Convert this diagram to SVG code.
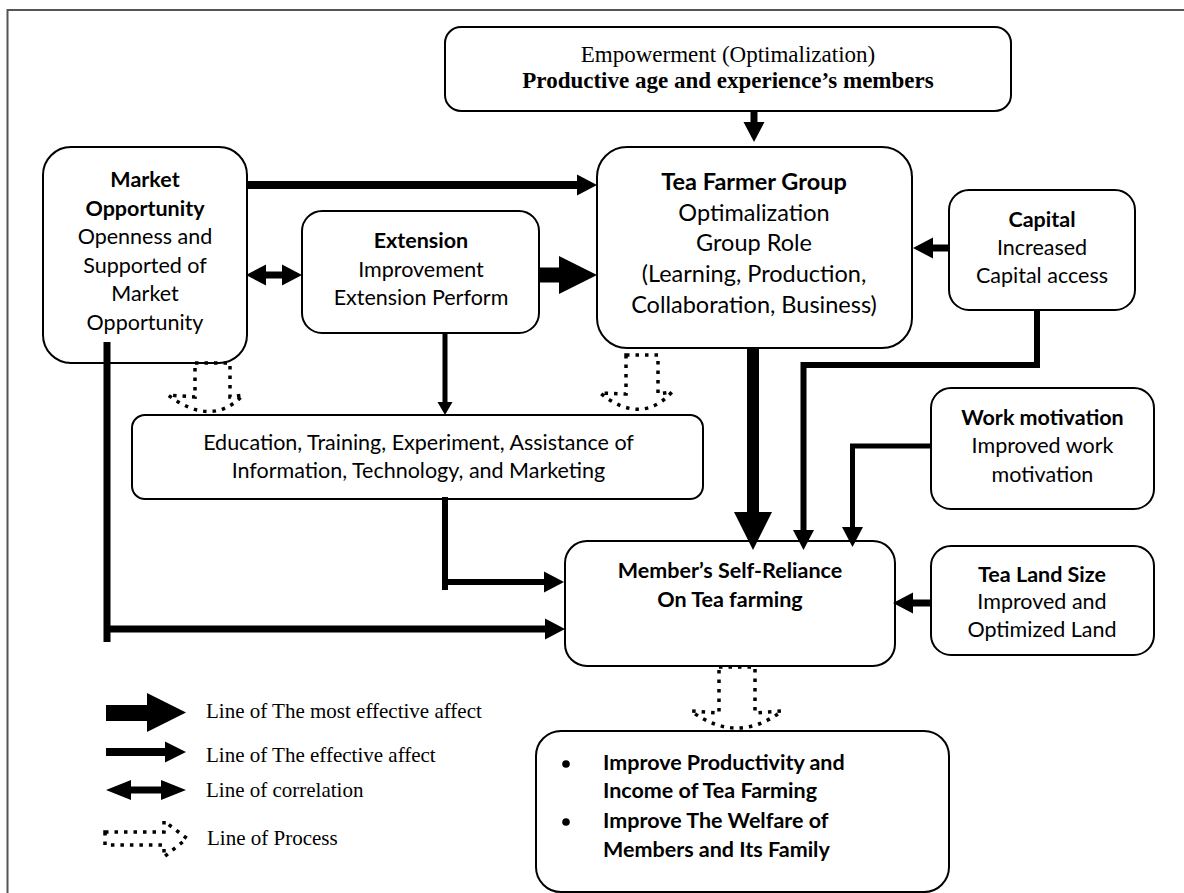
<svg xmlns="http://www.w3.org/2000/svg" width="1184" height="893" viewBox="0 0 1184 893">
<style>
.box{fill:#fff;stroke:#000;stroke-width:2}
.c{font-family:Lato,"Liberation Sans",sans-serif;font-size:21.5px;text-anchor:middle;fill:#000}
.l{font-family:Lato,"Liberation Sans",sans-serif;font-size:21.5px;font-weight:bold;fill:#000}
.big{font-size:23.5px}
.b{font-weight:bold}
.t{font-family:"Liberation Serif","Times New Roman",serif;font-size:23px;text-anchor:middle;fill:#000}
.lg{font-family:"Liberation Serif","Times New Roman",serif;font-size:21px;fill:#000}
.ln{fill:none;stroke:#000;stroke-linejoin:miter}
.proc{fill:none;stroke:#000;stroke-width:3.5;stroke-dasharray:3.5 6}
.frame{fill:none;stroke:#555;stroke-width:2}
</style>
<defs>
<marker id="h" markerUnits="userSpaceOnUse" viewBox="0 0 20 22" markerWidth="20" markerHeight="22" refX="0" refY="11" orient="auto-start-reverse"><path d="M0,0.5 L20,11 L0,21.5 Z"/></marker>
<marker id="hs" markerUnits="userSpaceOnUse" viewBox="0 0 13 16" markerWidth="13" markerHeight="16" refX="0" refY="8" orient="auto"><path d="M0,0.5 L13,8 L0,15.5 Z"/></marker>
<marker id="hb" markerUnits="userSpaceOnUse" viewBox="0 0 38 40" markerWidth="38" markerHeight="40" refX="0" refY="20" orient="auto"><path d="M0,1 L38,20 L0,39 Z"/></marker>
</defs>
<path class="frame" d="M1184,10 H7.5 V893"/>

<g id="empowerment">
<rect class="box" x="445" y="27" width="566" height="84" rx="16"/>
<text class="t" x="728" y="62">Empowerment (Optimalization)</text>
<text class="t b" x="728" y="88">Productive age and experience’s members</text>
</g>
<g id="market">
<rect class="box" x="43" y="147" width="204" height="216" rx="28"/>
<text class="c b" x="145" y="187">Market</text>
<text class="c b" x="145" y="215.5">Opportunity</text>
<text class="c" x="145" y="244">Openness and</text>
<text class="c" x="145" y="272.5">Supported of</text>
<text class="c" x="145" y="301">Market</text>
<text class="c" x="145" y="329.5">Opportunity</text>
</g>
<g id="extension">
<rect class="box" x="302" y="211" width="237" height="122" rx="20"/>
<text class="c b" x="421" y="248">Extension</text>
<text class="c" x="421" y="277">Improvement</text>
<text class="c" x="421" y="305">Extension Perform</text>
</g>
<g id="tea-farmer-group">
<rect class="box" x="597" y="147" width="315" height="201" rx="30"/>
<text class="c big b" x="754" y="190">Tea Farmer Group</text>
<text class="c big" x="754" y="220.7">Optimalization</text>
<text class="c big" x="754" y="251.4">Group Role</text>
<text class="c big" x="754" y="282">(Learning, Production,</text>
<text class="c big" x="754" y="312.8">Collaboration, Business)</text>
</g>
<g id="capital">
<rect class="box" x="949" y="190" width="186" height="120" rx="20"/>
<text class="c b" x="1042" y="227">Capital</text>
<text class="c" x="1042" y="255">Increased</text>
<text class="c" x="1042" y="283">Capital access</text>
</g>
<g id="education">
<rect class="box" x="132" y="415" width="571" height="84" rx="13"/>
<text class="c" x="418.5" y="450">Education, Training, Experiment, Assistance of</text>
<text class="c" x="418.5" y="478.3">Information, Technology, and Marketing</text>
</g>
<g id="work-motivation">
<rect class="box" x="931" y="388" width="223" height="121" rx="20"/>
<text class="c b" x="1042.5" y="425">Work motivation</text>
<text class="c" x="1042.5" y="453">Improved work</text>
<text class="c" x="1042.5" y="481.7">motivation</text>
</g>
<g id="self-reliance">
<rect class="box" x="565" y="541" width="330" height="125" rx="22"/>
<text class="c b" x="730" y="578">Member’s Self-Reliance</text>
<text class="c b" x="730" y="606.7">On Tea farming</text>
</g>
<g id="tea-land">
<rect class="box" x="931" y="546" width="223" height="109" rx="20"/>
<text class="c b" x="1042" y="581.7">Tea Land Size</text>
<text class="c" x="1042" y="609">Improved and</text>
<text class="c" x="1042" y="637">Optimized Land</text>
</g>
<g id="result">
<rect class="box" x="536" y="731" width="413" height="161" rx="25"/>
<circle cx="566" cy="764" r="3.8"/>
<circle cx="566" cy="822" r="3.8"/>
<text class="l" x="603" y="770">Improve Productivity and</text>
<text class="l" x="603" y="798">Income of Tea Farming</text>
<text class="l" x="603" y="828">Improve The Welfare of</text>
<text class="l" x="603" y="856.7">Members and Its Family</text>
</g>

<g id="connectors">
<path class="ln" stroke-width="8" d="M247,185 H577" marker-end="url(#h)"/>
<path class="ln" stroke-width="7" d="M266,275 H282" marker-start="url(#h)" marker-end="url(#h)"/>
<path class="ln" stroke-width="7" d="M754,111 V122" marker-end="url(#h)"/>
<path class="ln" stroke-width="7" d="M949,248 H933" marker-end="url(#h)"/>
<path class="ln" stroke-width="5" d="M445,333 V402" marker-end="url(#hs)"/>
<path class="ln" stroke-width="6" d="M445,497 V590"/>
<path class="ln" stroke-width="6" d="M442,582 H544" marker-end="url(#h)"/>
<path class="ln" stroke-width="7" d="M107,342 V642"/>
<path class="ln" stroke-width="7" d="M104,629 H545" marker-end="url(#h)"/>
<path class="ln" stroke-width="6" d="M1037,310 V365 H803.5 V530" marker-end="url(#h)"/>
<path class="ln" stroke-width="5" d="M931,446 H852.5 V527" marker-end="url(#h)"/>
<path class="ln" stroke-width="7" d="M931,603 H913" marker-end="url(#h)"/>
<path class="ln" stroke-width="15" d="M539,275 H559" marker-end="url(#hb)"/>
<path class="ln" stroke-width="12" d="M753,348 V512" marker-end="url(#hb)"/>
<path class="proc" d="M195,363 H230 V397 L243,395 Q212,428 168,395 L195,397 Z"/>
<path class="proc" d="M626,355 H658 V394 L672,392 Q641,426 600,393 L626,394 Z"/>
<path class="proc" d="M719,667 H755 V713 L782,711 Q737,745 691,711 L719,713 Z"/>
</g>

<g id="legend">
<polygon points="106,705 147,705 147,693 186,712.5 147,732 147,721 106,721"/>
<text class="lg" x="206" y="718">Line of The most effective affect</text>
<polygon points="106,748 165,748 165,741.5 186,752 165,762.5 165,756 106,756"/>
<text class="lg" x="206" y="761.7">Line of The effective affect</text>
<polygon points="106,790 131,780 131,786.5 161,786.5 161,780 186,790 161,800 161,793.5 131,793.5 131,800"/>
<text class="lg" x="206" y="796.7">Line of correlation</text>
<path class="proc" d="M105,832 H164 V821 L187,838.5 L164,857 V845 H105 Z"/>
<text class="lg" x="207" y="845">Line of Process</text>
</g>
</svg>
